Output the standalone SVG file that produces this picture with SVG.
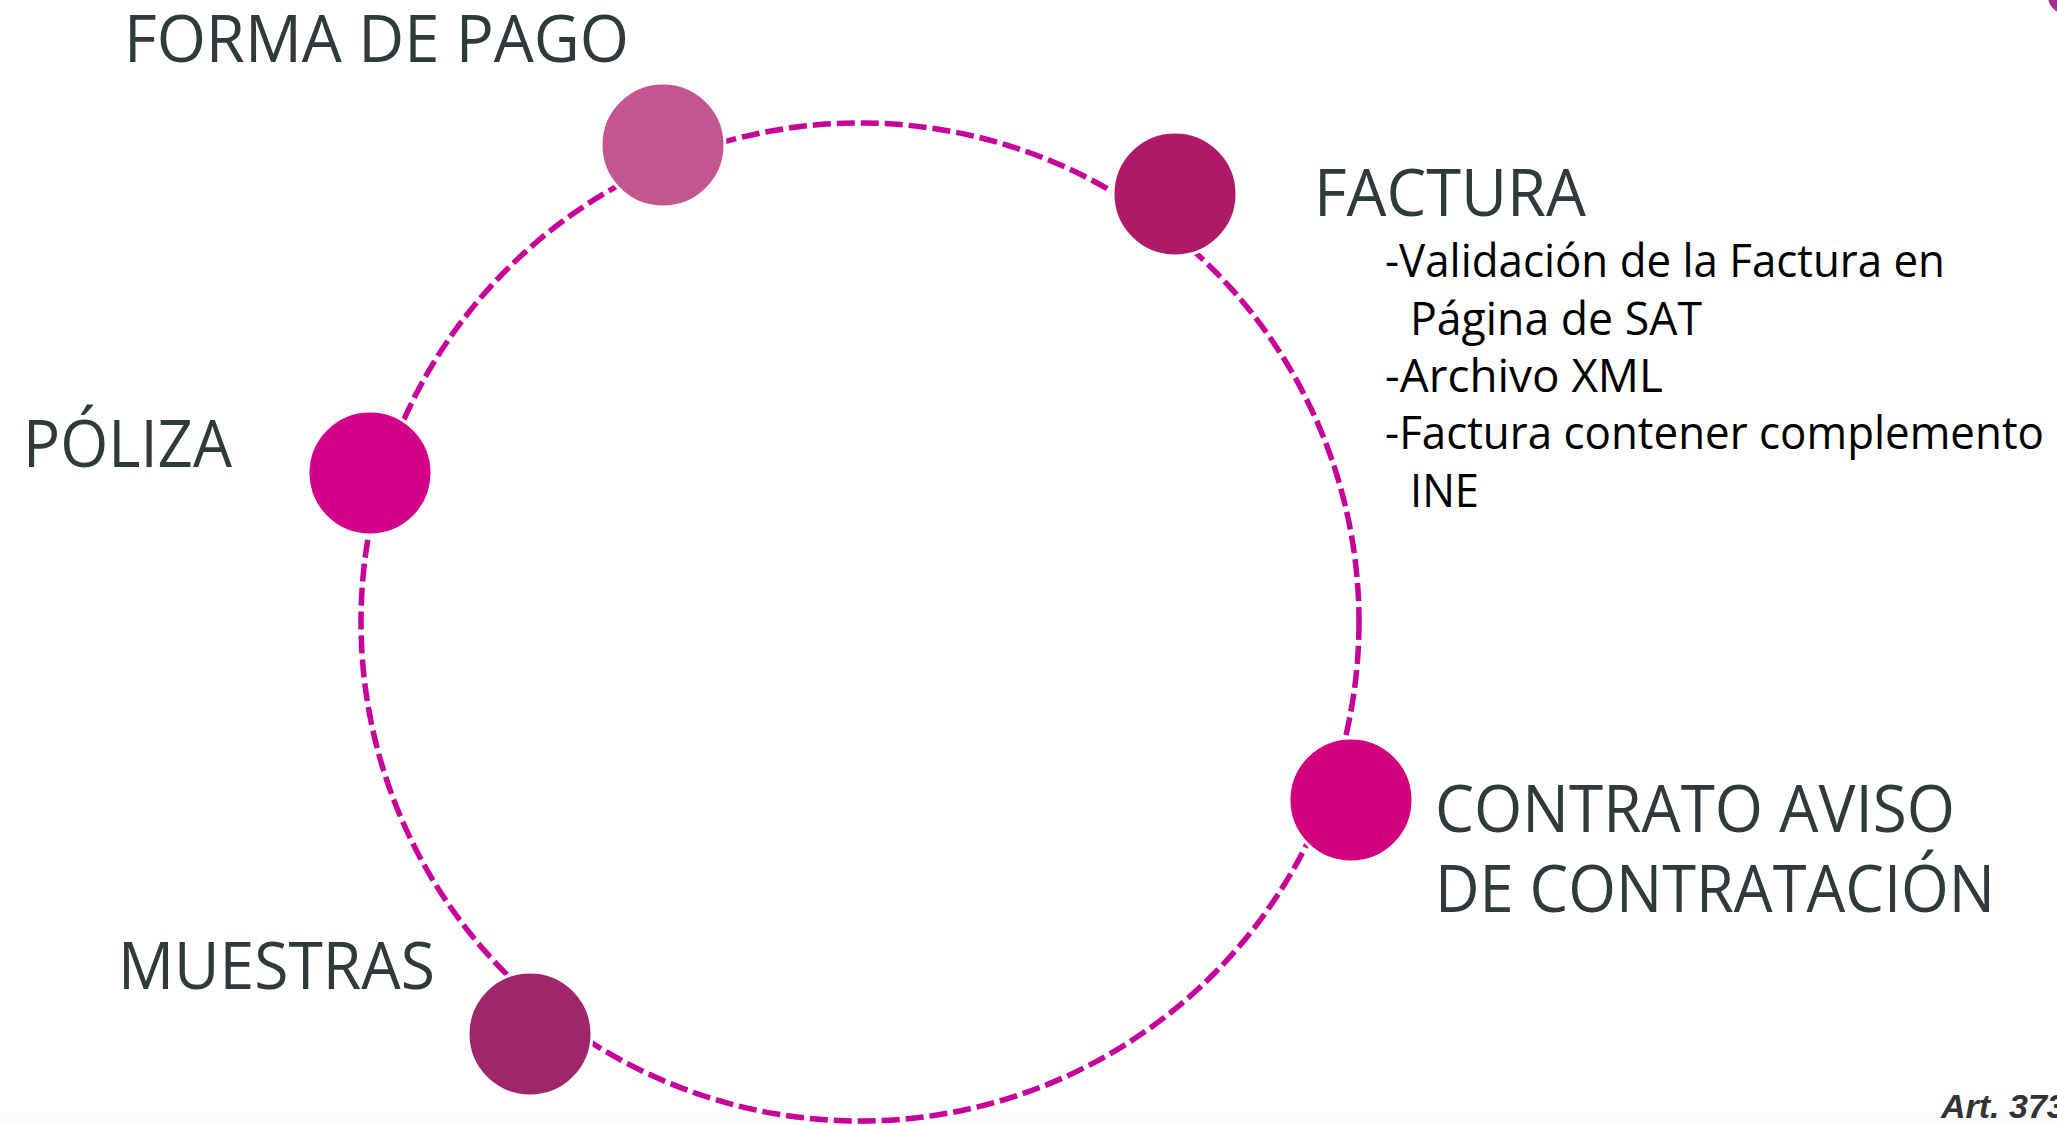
<svg xmlns="http://www.w3.org/2000/svg" width="2057" height="1125" viewBox="0 0 2057 1125">
<style>
.title{font-family:"Open Sans","Noto Sans","DejaVu Sans",sans-serif;font-size:66px;fill:#2F3A3C;}
.item{font-family:"Open Sans","Noto Sans","DejaVu Sans",sans-serif;font-size:46px;fill:#000;}
.node{stroke:#fff;stroke-width:3;}
.ring{fill:none;stroke:#C7009A;stroke-width:5.5;stroke-dasharray:18 6;}
.art{font-family:"Liberation Sans",Arial,sans-serif;font-size:34px;font-weight:bold;font-style:italic;fill:#333;}
</style>
<rect x="0" y="0" width="2057" height="1125" fill="#fff"/>
<rect x="0" y="1112" width="2057" height="13" fill="#FAFBFA"/>
<circle cx="2066" cy="-4" r="18" fill="#8E0A7E" opacity="0.85"/>
<g id="connectors">
<circle class="ring" cx="860" cy="622" r="499"/>
</g>
<g id="node-forma">
<circle class="node" cx="663" cy="145" r="62" fill="#C5558F"/>
<text class="title" x="124" y="62" textLength="505" lengthAdjust="spacingAndGlyphs">FORMA DE PAGO</text>
</g>
<g id="node-factura">
<circle class="node" cx="1175" cy="194" r="62" fill="#AE1A68"/>
<text class="title" x="1314" y="216" textLength="272" lengthAdjust="spacingAndGlyphs">FACTURA</text>
<text class="item" x="1385" y="277" textLength="560" lengthAdjust="spacingAndGlyphs">-Validación de la Factura en</text>
<text class="item" x="1410" y="335" textLength="292" lengthAdjust="spacingAndGlyphs">Página de SAT</text>
<text class="item" x="1385" y="392" textLength="278" lengthAdjust="spacingAndGlyphs">-Archivo XML</text>
<text class="item" x="1385" y="449" textLength="659" lengthAdjust="spacingAndGlyphs">-Factura contener complemento</text>
<text class="item" x="1410" y="507" textLength="69" lengthAdjust="spacingAndGlyphs">INE</text>
</g>
<g id="node-poliza">
<circle class="node" cx="370" cy="473" r="62" fill="#D4008B"/>
<text class="title" x="23" y="467" textLength="209" lengthAdjust="spacingAndGlyphs">PÓLIZA</text>
</g>
<g id="node-contrato">
<circle class="node" cx="1351" cy="800" r="62" fill="#D2007E"/>
<text class="title" x="1435" y="832" textLength="520" lengthAdjust="spacingAndGlyphs">CONTRATO AVISO</text>
<text class="title" x="1435" y="912" textLength="560" lengthAdjust="spacingAndGlyphs">DE CONTRATACIÓN</text>
</g>
<g id="node-muestras">
<circle class="node" cx="530" cy="1034" r="62" fill="#A0266C"/>
<text class="title" x="118" y="989" textLength="317" lengthAdjust="spacingAndGlyphs">MUESTRAS</text>
</g>
<text class="art" x="1941" y="1118">Art. 373</text>
</svg>
